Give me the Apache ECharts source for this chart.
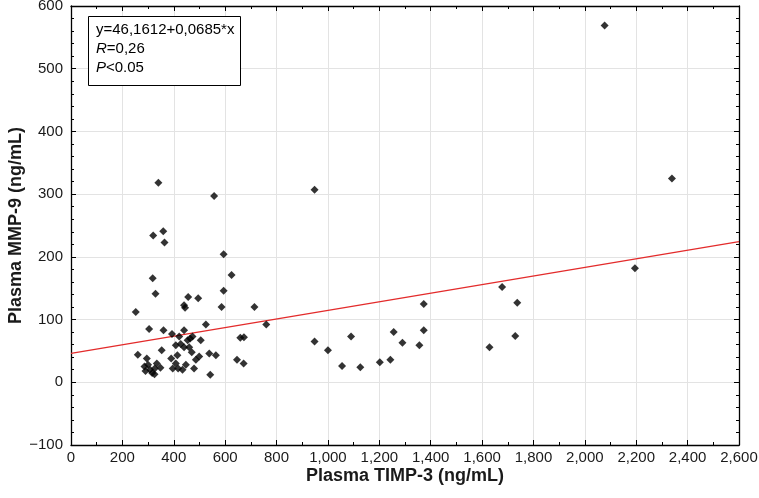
<!DOCTYPE html>
<html>
<head>
<meta charset="utf-8">
<script src="https://cdn.jsdelivr.net/npm/echarts@6/dist/echarts.min.js"></script>
<style>
html,body{margin:0;padding:0;background:#fff;}
#c{width:759px;height:498px;}
</style>
</head>
<body>
<div id="c"></div>
<script>
// Data
const timp3 = [2077,2339,2195,1737,1729,1678,1629,1373,1373,1356,1290,1256,1243,1202,1126,1090,1055,1000,948,948,760,714,673,659,672,646,625,
  594,594,586,557,564,542,538,525,505,499,486,495,479,473,464,456,454,460,447,444,440,440,440,434,427,421,417,414,408,408,396,393,390,
  364,359,360,353,348,340,329,320,318,325,304,295,286,260,252,300,308,316,326,334,290,470];
const mmp9 = [569,325,182,127,74,152,56,125,83,59,63,80,36,32,24,73,26,51,65,307,92,120,72,71,30,36,171,
  204,146,120,297,43,12,46,92,67,41,36,134,22,73,70,136,67,56,28,119,123,83,56,20,61,73,22,43,59,30,22,77,38,
  223,241,83,51,23,318,141,234,166,13,85,38,25,44,112,28,20,15,22,30,18,48];
const intercept = 46.1612, slope = 0.0685;
const xMin = 0, xMax = 2600, xStep = 200;
const yMin = -100, yMax = 600, yStep = 100;
const fitLabel = ['y=46,1612+0,0685*x', 'R', '=0,26', 'P', '<0.05'];

const pts = timp3.map((x, i) => [x, mmp9[i]]);
const fmtX = v => String(v).replace(/\B(?=(\d{3})+(?!\d))/g, ',');
const fmtY = v => v < 0 ? '\u2212' + Math.abs(v) : String(v);
const FONT = 'Liberation Sans, Arial, sans-serif';

const chart = echarts.init(document.getElementById('c'), null, {renderer: 'canvas'});
const lineStyle = {color: '#000', width: 1.3};
const baseAxis = {
  axisLine: {show: true, onZero: false, lineStyle},
  axisTick: {show: true, inside: true, length: 5, lineStyle: {color: '#000', width: 1}},
  minorTick: {show: true, length: 3, lineStyle: {color: '#000', width: 1}},
};
const richItal = {
  i: {fontStyle: 'italic', fontSize: 15, fontFamily: FONT, color: '#000'},
  n: {fontSize: 15, fontFamily: FONT, color: '#000'}
};
chart.setOption({
  animation: false,
  grid: {left: 71, right: 20, top: 6, bottom: 53, containLabel: false, outerBoundsMode: 'none'},
  xAxis: [
    Object.assign({}, baseAxis, {
      type: 'value', min: xMin, max: xMax, interval: xStep, position: 'bottom',
      minorTick: Object.assign({}, baseAxis.minorTick, {splitNumber: 2}),
      axisLabel: {formatter: fmtX, color: '#1a1a1a', fontSize: 15, fontFamily: FONT, margin: 5},
      splitLine: {show: true, lineStyle: {color: '#e3e3e3', width: 1}},
      name: 'Plasma TIMP-3 (ng/mL)', nameLocation: 'middle', nameGap: 22, nameMoveOverlap: false,
      nameTextStyle: {fontSize: 18, fontWeight: 'bold', color: '#1a1a1a', fontFamily: FONT}
    }),
    Object.assign({}, baseAxis, {
      type: 'value', min: xMin, max: xMax, interval: xStep, position: 'top',
      minorTick: Object.assign({}, baseAxis.minorTick, {splitNumber: 2}),
      axisLabel: {show: false}, splitLine: {show: false}
    })
  ],
  yAxis: [
    Object.assign({}, baseAxis, {
      type: 'value', min: yMin, max: yMax, interval: yStep, position: 'left',
      minorTick: Object.assign({}, baseAxis.minorTick, {splitNumber: 5}),
      axisLabel: {formatter: fmtY, color: '#1a1a1a', fontSize: 15, fontFamily: FONT, margin: 8},
      splitLine: {show: true, lineStyle: {color: '#e3e3e3', width: 1}},
      name: 'Plasma MMP-9 (ng/mL)', nameLocation: 'middle', nameGap: 46, nameMoveOverlap: false,
      nameTextStyle: {fontSize: 18, fontWeight: 'bold', color: '#1a1a1a', fontFamily: FONT}
    }),
    Object.assign({}, baseAxis, {
      type: 'value', min: yMin, max: yMax, interval: yStep, position: 'right',
      minorTick: Object.assign({}, baseAxis.minorTick, {splitNumber: 5}),
      axisLabel: {show: false}, splitLine: {show: false}
    })
  ],
  series: [
    {
      type: 'line', xAxisIndex: 0, yAxisIndex: 0, symbol: 'none', silent: true,
      data: [[xMin, intercept + slope * xMin], [xMax, intercept + slope * xMax]],
      lineStyle: {color: '#e32b2b', width: 1.3}, z: 3
    },
    {
      type: 'scatter', xAxisIndex: 0, yAxisIndex: 0, symbol: 'diamond', symbolSize: 8,
      itemStyle: {color: '#000'}, data: pts, z: 4
    }
  ],
  graphic: [
    {type: 'rect', left: 88, top: 16, z: 100, shape: {width: 152, height: 69},
     style: {fill: '#fff', stroke: '#000', lineWidth: 1}},
    {type: 'text', left: 96, top: 22, z: 101, style: {text: fitLabel[0], font: '15px ' + FONT, fill: '#000'}},
    {type: 'text', left: 96, top: 41, z: 101, style: {text: '{i|' + fitLabel[1] + '}{n|' + fitLabel[2] + '}', rich: richItal}},
    {type: 'text', left: 96, top: 60, z: 101, style: {text: '{i|' + fitLabel[3] + '}{n|' + fitLabel[4] + '}', rich: richItal}}
  ]
});
</script>
</body>
</html>
